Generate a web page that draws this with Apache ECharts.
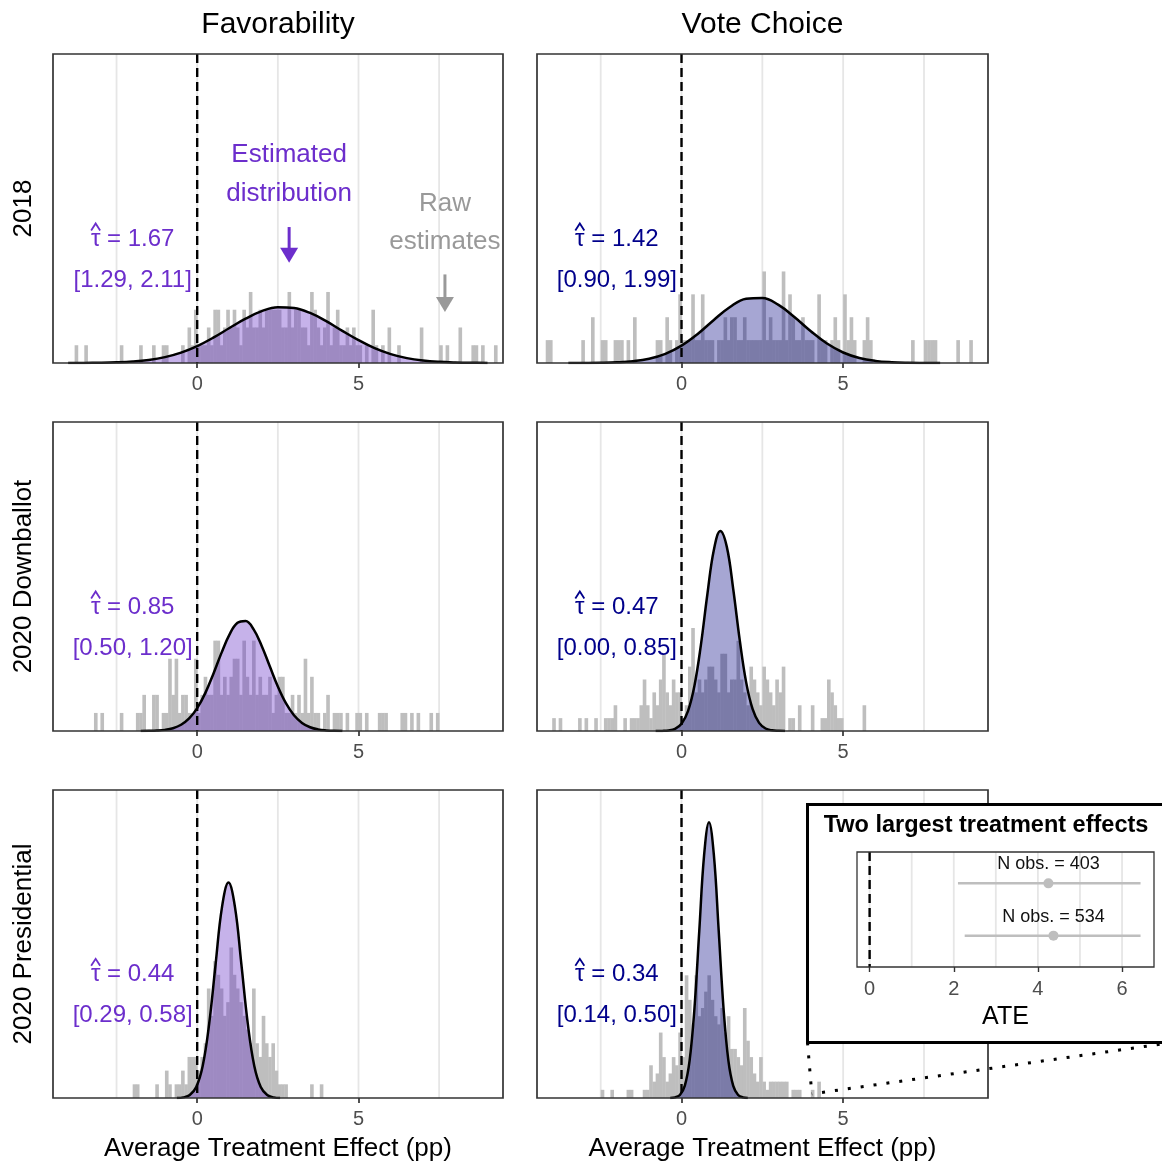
<!DOCTYPE html>
<html>
<head>
<meta charset="utf-8" />
<title>Treatment effect distributions</title>
<script src="https://cdn.jsdelivr.net/npm/echarts@6/dist/echarts.min.js"></script>
<style>
  html, body { margin: 0; padding: 0; background: #fff; }
  #main { width: 1162px; height: 1162px; }
</style>
</head>
<body>
<div id="main"></div>
<script>
const FONT = '"Liberation Sans", Arial, Helvetica, sans-serif';

// histogram of raw estimates: bins of 0.1 starting at -4.4
const binStart = -4.4;
const binWidth = 0.1;
const estimatesPerPanel = [116, 90, 114, 160, 150, 251];

const countsFav2018 = [
  0,0,0,0,0,0,1,0,0,1,0,0,0,0,0,0,0,0,0,0,
  1,0,0,0,0,0,1,0,0,0,1,0,0,1,1,0,0,0,0,1,
  0,2,1,3,1,1,1,2,1,3,3,1,2,3,2,3,2,1,3,2,
  4,2,2,3,2,3,3,3,3,3,2,2,4,2,3,3,2,2,1,4,
  3,2,1,2,4,1,2,3,1,1,2,1,2,1,1,0,1,0,3,1,
  0,1,0,2,0,0,1,0,0,0,0,0,0,2,0,0,0,0,0,1,
  0,1,0,0,0,2,0,0,0,1,1,0,1,0,0,0,1,0,0,0
];
const countsVote2018 = [
  0,0,1,1,0,0,0,0,0,0,0,0,0,1,0,0,2,0,0,1,
  1,0,0,1,1,1,0,1,0,2,0,0,0,0,0,0,1,1,0,2,
  1,0,1,3,1,1,1,3,1,1,3,1,1,1,0,1,1,2,1,2,
  2,1,1,2,1,1,1,1,1,4,1,2,1,1,1,4,1,3,2,1,
  1,2,1,1,1,0,3,1,1,0,1,2,1,0,3,1,2,1,0,0,
  1,2,1,0,0,0,0,0,0,0,0,0,0,0,0,1,0,0,0,1,
  1,1,1,0,0,0,0,0,0,1,0,0,0,1,0,0,0,0,0,0
];
const countsFavDown = [
  0,0,0,0,0,0,0,0,0,0,0,0,1,0,1,0,0,0,0,0,
  1,0,0,0,0,1,1,2,0,0,2,2,0,1,1,4,2,4,1,2,
  2,1,1,4,1,2,3,2,2,5,5,2,3,2,3,4,4,2,5,3,
  2,5,2,3,2,2,3,1,2,3,3,1,1,2,1,2,1,4,1,3,
  1,1,0,1,2,0,1,1,1,0,1,0,0,1,1,0,1,0,0,0,
  1,1,1,0,0,0,0,1,1,0,1,0,1,0,0,0,1,0,1,0,
  0,0,0,0,0,0,0,0,0,0,0,0,0,0,0,0,0,0,0,0
];
const countsVoteDown = [
  0,0,0,0,1,0,1,0,0,0,0,0,1,0,1,0,0,1,0,0,
  1,1,1,2,0,0,1,0,1,1,1,2,4,2,1,3,2,4,6,3,
  2,4,3,3,1,2,5,8,3,4,3,4,5,5,4,3,6,6,3,4,
  4,7,4,3,2,5,4,3,2,5,4,3,2,4,3,5,0,1,1,0,
  2,0,0,0,2,0,0,1,1,4,3,2,1,1,0,0,0,0,0,0,
  2,0,0,0,0,0,0,0,0,0,0,0,0,0,0,0,0,0,0,0,
  0,0,0,0,0,0,0,0,0,0,0,0,0,0,0,0,0,0,0,0
];
const countsFavPres = [
  0,0,0,0,0,0,0,0,0,0,0,0,0,0,0,0,0,0,0,0,
  0,0,0,0,1,1,0,0,0,0,0,1,0,0,2,1,0,1,1,2,
  1,3,3,3,2,3,4,8,6,10,9,8,6,7,11,9,8,7,6,5,
  4,8,4,3,6,4,3,4,2,1,1,1,0,0,0,0,0,0,0,1,
  0,0,1,0,0,0,0,0,0,0,0,0,0,0,0,0,0,0,0,0,
  0,0,0,0,0,0,0,0,0,0,0,0,0,0,0,0,0,0,0,0,
  0,0,0,0,0,0,0,0,0,0,0,0,0,0,0,0,0,0,0,0
];
const countsVotePres = [
  0,0,0,0,0,0,0,0,0,0,0,0,0,0,0,0,0,0,0,1,
  0,0,1,0,0,0,0,1,1,0,0,0,1,1,4,2,3,8,5,2,
  3,5,4,8,5,15,12,9,15,10,11,13,15,12,10,9,11,8,10,6,
  6,5,4,11,7,5,3,2,5,2,1,2,2,2,2,2,2,0,1,1,
  1,0,0,0,1,0,2,0,0,0,0,0,0,0,0,0,0,0,0,0,
  0,0,0,0,0,0,0,0,0,0,0,0,0,0,0,0,0,0,0,0,
  0,0,0,0,0,0,0,0,0,0,0,0,0,0,0,0,0,0,0,0
];

// estimated distributions, [x, density]
const curveFav2018 = [[-4,0.0002],[-3.5,0.0005],[-3,0.0012],[-2.5,0.0031],[-2,0.007],[-1.5,0.0147],[-1,0.0284],[-0.5,0.0503],[0,0.0819],[0.5,0.123],[1,0.17],[1.5,0.215],[2,0.252],[2.5,0.271],[3,0.267],[3.5,0.243],[4,0.203],[4.5,0.156],[5,0.111],[5.5,0.072],[6,0.0432],[6.5,0.0237],[7,0.012],[7.5,0.0056],[8,0.0024],[8.5,0.0009],[9,0.0003]];
const curveVote2018 = [[-3.5,0.0001],[-3,0.0003],[-2.5,0.001],[-2,0.0031],[-1.5,0.0085],[-1,0.0206],[-0.5,0.0444],[0,0.0843],[0.5,0.141],[1,0.209],[1.5,0.272],[2,0.312],[2.5,0.316],[3,0.282],[3.5,0.222],[4,0.154],[4.5,0.0944],[5,0.051],[5.5,0.0243],[6,0.0102],[6.5,0.0038],[7,0.0012],[7.5,0.0004],[8,0.0001]];
const curveFavDown = [[-1.75,0.0002],[-1.5,0.0007],[-1.25,0.002],[-1,0.0055],[-0.75,0.0136],[-0.5,0.0301],[-0.25,0.0608],[0,0.111],[0.25,0.184],[0.5,0.277],[0.75,0.378],[1,0.468],[1.25,0.525],[1.5,0.534],[1.75,0.493],[2,0.413],[2.25,0.314],[2.5,0.216],[2.75,0.135],[3,0.0764],[3.25,0.0393],[3.5,0.0183],[3.75,0.0077],[4,0.003],[4.25,0.001],[4.5,0.0003]];
const curveVoteDown = [[-0.8,0.0001],[-0.6,0.0006],[-0.4,0.0027],[-0.2,0.0108],[0,0.0354],[0.2,0.0965],[0.4,0.22],[0.6,0.418],[0.8,0.664],[1,0.879],[1.2,0.971],[1.4,0.895],[1.6,0.688],[1.8,0.442],[2,0.236],[2.2,0.106],[2.4,0.0394],[2.6,0.0122],[2.8,0.0032],[3,0.0007],[3.2,0.0001]];
const curveFavPres = [[-0.63,0.0005],[-0.43,0.0031],[-0.23,0.0145],[-0.03,0.0536],[0.17,0.156],[0.37,0.36],[0.57,0.651],[0.77,0.931],[0.97,1.049],[1.17,0.931],[1.37,0.651],[1.57,0.36],[1.77,0.156],[1.97,0.0536],[2.17,0.0145],[2.37,0.0031],[2.57,0.0005]];
const curveVotePres = [[-0.35,0.0005],[-0.2,0.0029],[-0.05,0.0149],[0.1,0.059],[0.25,0.182],[0.4,0.436],[0.55,0.815],[0.7,1.185],[0.85,1.343],[1,1.185],[1.15,0.815],[1.3,0.436],[1.45,0.182],[1.6,0.059],[1.75,0.0149],[1.9,0.0029],[2.05,0.0005]];

const columnLabels = ['Favorability', 'Vote Choice'];
const rowLabels = ['2018', '2020 Downballot', '2020 Presidential'];
const tauHats = ['1.67', '1.42', '0.85', '0.47', '0.44', '0.34'];
const tauIntervals = ['[1.29, 2.11]', '[0.90, 1.99]', '[0.50, 1.20]', '[0.00, 0.85]', '[0.29, 0.58]', '[0.14, 0.50]'];
const gridBreaks = [-2.5, 0, 2.5, 5, 7.5];
const tickValues = [0, 5];

// inset: two largest treatment effects
const insetPoints = [4.25, 4.37];
const insetLows = [2.10, 2.26];
const insetHighs = [6.44, 6.44];
const insetRows = [2, 1];
const insetLabels = ['N obs. = 403', 'N obs. = 534'];
const insetBreaks = [0, 1, 2, 3, 4, 5, 6];
const insetTicks = [0, 2, 4, 6];

const panelCounts = [countsFav2018, countsVote2018, countsFavDown, countsVoteDown, countsFavPres, countsVotePres];
const panelCurves = [curveFav2018, curveVote2018, curveFavDown, curveVoteDown, curveFavPres, curveVotePres];
const fills = ['rgba(106, 53, 200, 0.38)', 'rgba(0, 0, 128, 0.35)'];
const textColors = ['#6c2ecc', '#00008b'];

const colLeft = [53, 537], colWidth = [450, 451];
const rowTop = [54, 422, 790], rowHeight = [309, 309, 308];
const xMin = -4.47, xMax = 9.48, yMax = 1.5;
const insetYMin = 0.4, insetYMax = 2.6;

// vertical line items are [x, yTop, yBottom]
function renderGridline(params, api) {
  const top = api.coord([api.value(0), api.value(1)]);
  const bot = api.coord([api.value(0), api.value(2)]);
  return { type: 'line', shape: { x1: top[0], y1: top[1], x2: bot[0], y2: bot[1] },
    style: { stroke: '#e6e6e6', lineWidth: 1.8 } };
}

function renderZero(params, api) {
  const top = api.coord([api.value(0), api.value(1)]);
  const bot = api.coord([api.value(0), api.value(2)]);
  return { type: 'line', shape: { x1: top[0], y1: top[1], x2: bot[0], y2: bot[1] },
    style: { stroke: '#000', lineWidth: 2.4, lineDash: [9, 5] } };
}

function renderBar(params, api) {
  const a = api.coord([api.value(0), api.value(2)]);
  const b = api.coord([api.value(1), 0]);
  return { type: 'rect', shape: { x: a[0], y: a[1], width: b[0] - a[0] + 0.4, height: b[1] - a[1] },
    style: { fill: '#bebebe' } };
}

function renderInsetRow(params, api) {
  const i = params.dataIndex;
  const row = api.value(1);
  const lo = api.coord([insetLows[i], row]);
  const hi = api.coord([insetHighs[i], row]);
  const pt = api.coord([api.value(0), row]);
  return { type: 'group', children: [
    { type: 'line', shape: { x1: lo[0], y1: lo[1], x2: hi[0], y2: hi[1] }, style: { stroke: '#bebebe', lineWidth: 2.5 } },
    { type: 'circle', shape: { cx: pt[0], cy: pt[1], r: 5 }, style: { fill: '#bebebe' } },
    { type: 'text', x: pt[0], y: pt[1] - 19, style: { text: insetLabels[i], fill: '#111', fontSize: 18, fontFamily: FONT,
      align: 'center', verticalAlign: 'middle', textAlign: 'center', textVerticalAlign: 'middle' } }
  ] };
}

const grids = [], xAxes = [], yAxes = [], series = [];
for (let p = 0; p < 6; p++) {
  const row = Math.floor(p / 2), col = p % 2;
  grids.push({ left: colLeft[col], top: rowTop[row], width: colWidth[col], height: rowHeight[row],
    show: true, borderColor: '#333', borderWidth: 1.7, z: 5, containLabel: false, outerBoundsMode: 'none' });
  xAxes.push({ type: 'value', gridIndex: p, min: xMin, max: xMax,
    axisLine: { show: false }, splitLine: { show: false },
    axisTick: { customValues: tickValues, length: 5, lineStyle: { color: '#333', width: 1.7 } },
    axisLabel: { customValues: tickValues, color: '#4d4d4d', fontSize: 20, margin: 11, fontFamily: FONT },
    name: row === 2 ? 'Average Treatment Effect (pp)' : '', nameLocation: 'middle', nameGap: 38,
    nameTextStyle: { color: '#000', fontSize: 26, fontFamily: FONT } });
  yAxes.push({ type: 'value', gridIndex: p, min: 0, max: yMax, show: false });

  const bars = [];
  panelCounts[p].forEach((c, i) => {
    if (c > 0) bars.push([binStart + i * binWidth, binStart + (i + 1) * binWidth, c / (estimatesPerPanel[p] * binWidth)]);
  });

  series.push({ type: 'custom', xAxisIndex: p, yAxisIndex: p, z: 1, silent: true,
    data: gridBreaks.map(v => [v, yMax, 0]), encode: { x: 0, y: 1 }, renderItem: renderGridline });
  series.push({ type: 'custom', xAxisIndex: p, yAxisIndex: p, z: 2, silent: true,
    data: bars, encode: { x: [0, 1], y: 2 }, renderItem: renderBar });
  series.push({ type: 'line', xAxisIndex: p, yAxisIndex: p, z: 3, silent: true,
    data: panelCurves[p], smooth: 0.4, showSymbol: false, symbol: 'none',
    lineStyle: { color: '#000', width: 2.5 }, areaStyle: { color: fills[col], opacity: 1 } });
  series.push({ type: 'custom', xAxisIndex: p, yAxisIndex: p, z: 4, silent: true,
    data: [[0, yMax, 0]], encode: { x: 0, y: 1 }, renderItem: renderZero });
}

// inset plot
grids.push({ left: 857, top: 852, width: 297, height: 115, show: true, borderColor: '#333', borderWidth: 1.3,
  z: 14, containLabel: false, outerBoundsMode: 'none' });
xAxes.push({ type: 'value', gridIndex: 6, min: -0.3, max: 6.76, z: 14,
  axisLine: { show: false }, splitLine: { show: false },
  axisTick: { customValues: insetTicks, length: 5, lineStyle: { color: '#333', width: 1.4 } },
  axisLabel: { customValues: insetTicks, color: '#4d4d4d', fontSize: 20, margin: 12, fontFamily: FONT },
  name: 'ATE', nameLocation: 'middle', nameGap: 38, nameTextStyle: { color: '#000', fontSize: 25, fontFamily: FONT } });
yAxes.push({ type: 'value', gridIndex: 6, min: insetYMin, max: insetYMax, show: false });
series.push({ type: 'custom', xAxisIndex: 6, yAxisIndex: 6, z: 11, silent: true,
  data: insetBreaks.map(v => [v, insetYMax, insetYMin]), encode: { x: 0, y: 1 }, renderItem: renderGridline });
series.push({ type: 'custom', xAxisIndex: 6, yAxisIndex: 6, z: 12, silent: true,
  data: [[0, insetYMax, insetYMin]], encode: { x: 0, y: 1 }, renderItem: renderZero });
series.push({ type: 'custom', xAxisIndex: 6, yAxisIndex: 6, z: 13, silent: true,
  data: insetPoints.map((v, i) => [v, insetRows[i]]), encode: { x: 0, y: 1 }, renderItem: renderInsetRow });

const chart = echarts.init(document.getElementById('main'));
chart.setOption({
  animation: false,
  backgroundColor: '#fff',
  textStyle: { fontFamily: FONT },
  grid: grids, xAxis: xAxes, yAxis: yAxes, series: series
});

// annotations
const measureCtx = document.createElement('canvas').getContext('2d');
function textWidth(str, size) {
  measureCtx.font = size + 'px ' + FONT;
  return measureCtx.measureText(str).width;
}
function px(p, x, y) { return chart.convertToPixel({ gridIndex: p }, [x, y]); }
function text(x, y, str, size, color, extra, weight) {
  return Object.assign({ type: 'text', x: x, y: y, z: 6, silent: true,
    style: { text: str, fill: color, fontSize: size, fontFamily: FONT, fontWeight: weight || 'normal',
      align: 'center', verticalAlign: 'middle', textAlign: 'center', textVerticalAlign: 'middle' } }, extra || {});
}
function arrow(from, to, color) {
  const headLen = 15, headHalf = 9;
  return [
    { type: 'line', z: 6, silent: true, shape: { x1: from[0], y1: from[1], x2: to[0], y2: to[1] - headLen + 1 },
      style: { stroke: color, lineWidth: 3 } },
    { type: 'polygon', z: 6, silent: true,
      shape: { points: [[to[0] - headHalf, to[1] - headLen], [to[0] + headHalf, to[1] - headLen], [to[0], to[1]]] },
      style: { fill: color } }
  ];
}

const graphics = [];
columnLabels.forEach((t, c) => graphics.push(text(colLeft[c] + colWidth[c] / 2, 25, t, 30, '#000')));
rowLabels.forEach((t, r) => graphics.push(text(24, rowTop[r] + rowHeight[r] / 2, t, 26, '#000', { rotation: Math.PI / 2 })));

for (let p = 0; p < 6; p++) {
  const color = textColors[p % 2];
  const tauLine = '\u03c4 = ' + tauHats[p];
  const c1 = px(p, -2, 0.6);
  const w = textWidth(tauLine, 24), wt = textWidth('\u03c4', 24);
  const tx = c1[0] - w / 2 + wt / 2;
  graphics.push(text(c1[0], c1[1], tauLine, 24, color));
  graphics.push({ type: 'polyline', z: 6, silent: true,
    shape: { points: [[tx - 4.5, c1[1] - 9], [tx, c1[1] - 16], [tx + 4.5, c1[1] - 9]] },
    style: { stroke: color, lineWidth: 1.8, fill: null } });
  const c2 = px(p, -2, 0.4);
  graphics.push(text(c2[0], c2[1], tauIntervals[p], 24, color));
}

const est1 = px(0, 2.85, 1.01), est2 = px(0, 2.85, 0.82);
graphics.push(text(est1[0], est1[1], 'Estimated', 26, textColors[0]));
graphics.push(text(est2[0], est2[1], 'distribution', 26, textColors[0]));
graphics.push(...arrow(px(0, 2.85, 0.66), px(0, 2.85, 0.487), textColors[0]));
const raw1 = px(0, 7.68, 0.775), raw2 = px(0, 7.68, 0.59);
graphics.push(text(raw1[0], raw1[1], 'Raw', 26, '#999'));
graphics.push(text(raw2[0], raw2[1], 'estimates', 26, '#999'));
graphics.push(...arrow(px(0, 7.68, 0.43), px(0, 7.68, 0.248), '#999'));

// inset frame, title and connectors
const box = { x: 807.5, y: 804.5, width: 365, height: 238 };
graphics.push({ type: 'rect', z: 10, silent: true, shape: box, style: { fill: '#fff', stroke: '#000', lineWidth: 3 } });
graphics.push(text(986, 826, 'Two largest treatment effects', 23.5, '#000', { z: 15 }, 'bold'));
const target = px(5, 4.03, 0.02);
const bottom = box.y + box.height;
[[box.x, bottom], [box.x + box.width, bottom]].forEach(c => {
  graphics.push({ type: 'polyline', z: 20, silent: true, shape: { points: [c, target] },
    style: { stroke: '#000', lineWidth: 3, lineDash: [3, 10], fill: null } });
});

chart.setOption({ graphic: graphics });
</script>
</body>
</html>
